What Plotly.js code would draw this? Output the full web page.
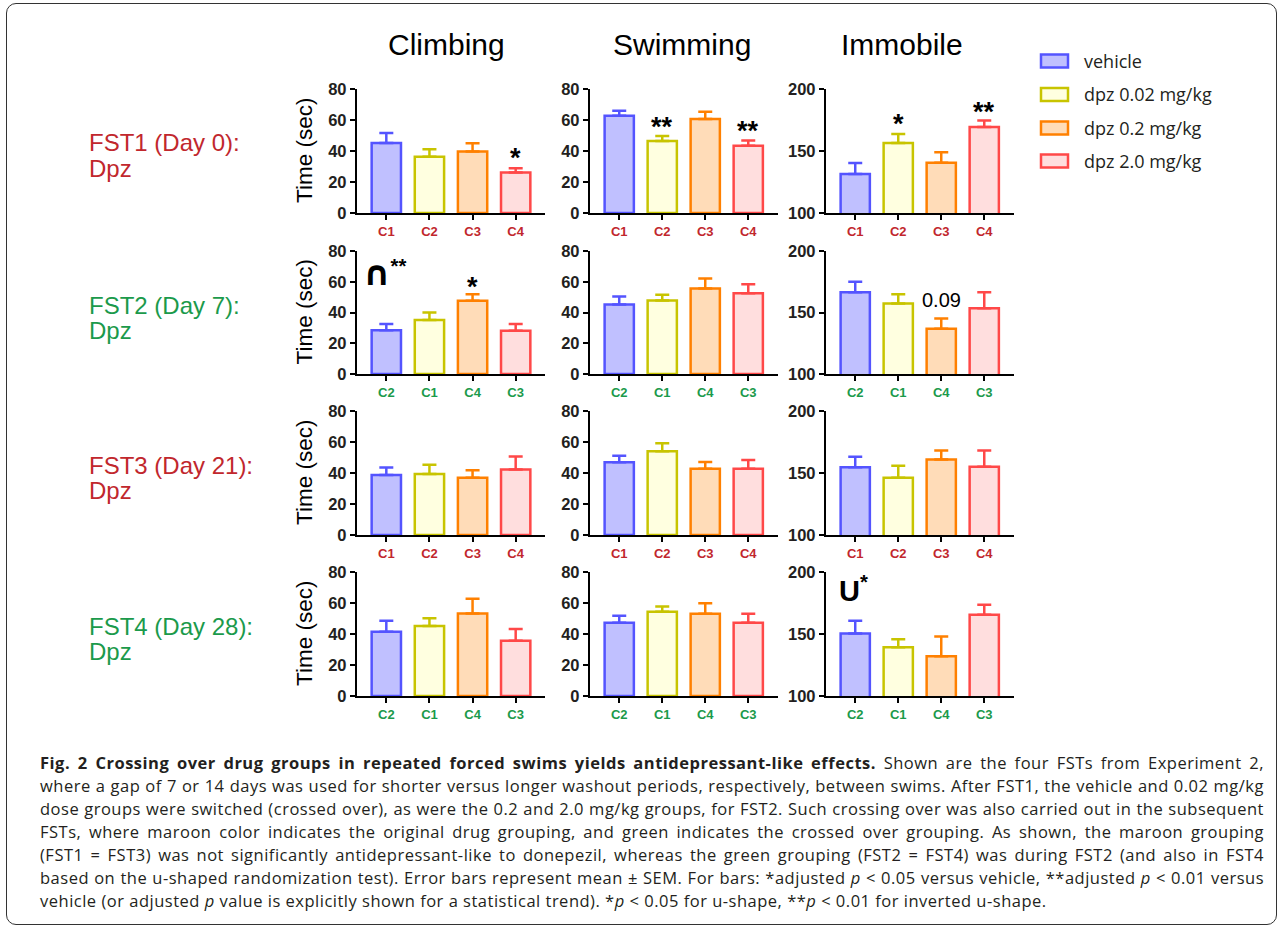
<!DOCTYPE html>
<html>
<head>
<meta charset="utf-8">
<script src="https://cdn.plot.ly/plotly-3.0.1.min.js"></script>
<style>
  html, body { margin:0; padding:0; background:#fff; }
  #wrap { position:relative; width:1282px; height:931px; overflow:hidden; }
  #chart { position:absolute; left:0; top:0; width:1282px; height:931px; }
  #frame { position:absolute; left:6px; top:3px; width:1269px; height:920px; border:1.5px solid #333; border-radius:10px; pointer-events:none; }
  .cap { position:absolute; left:40px; width:1224px; font-family:"Open Sans", sans-serif; font-size:16.5px; color:#231f20; white-space:nowrap; text-align:justify; text-align-last:justify; line-height:23px; }
  .cap.last { text-align:left; text-align-last:left; }
  .cap span.m { display:inline-block; }
</style>
</head>
<body>
<div id="wrap">
  <div id="chart"></div>
  <div id="captions"></div>
  <div id="frame"></div>
</div>
<script>
// ---------------- data ----------------
const groups = ['vehicle', 'dpz 0.02 mg/kg', 'dpz 0.2 mg/kg', 'dpz 2.0 mg/kg'];
const measures = ['Climbing', 'Swimming', 'Immobile'];
const rowLabels = ['FST1 (Day 0):', 'FST2 (Day 7):', 'FST3 (Day 21):', 'FST4 (Day 28):'];
const rowSub = ['Dpz', 'Dpz', 'Dpz', 'Dpz'];
const rowTicks = [['C1','C2','C3','C4'], ['C2','C1','C4','C3'], ['C1','C2','C3','C4'], ['C2','C1','C4','C3']];

const climbMean = [[45.2, 36.3, 39.6, 26.2], [28.5, 35.2, 47.6, 28.1], [38.7, 39.4, 37.0, 42.2], [41.5, 45.2, 53.3, 35.7]];
const climbSem  = [[6.4, 4.8, 5.4, 2.6], [4.1, 4.8, 4.3, 4.5], [4.8, 6.0, 4.7, 8.4], [7.1, 4.9, 9.5, 7.5]];
const swimMean  = [[62.8, 46.5, 60.6, 43.4], [45.2, 47.8, 55.6, 52.5], [46.9, 54.1, 42.8, 42.8], [47.3, 54.4, 53.1, 47.3]];
const swimSem   = [[3.2, 3.2, 4.8, 3.3], [5.2, 3.7, 6.5, 5.9], [4.3, 5.1, 4.3, 5.6], [4.5, 3.4, 6.7, 5.8]];
const immMean   = [[131.5, 156.5, 140.6, 169.4], [166.5, 157.3, 136.8, 153.5], [154.6, 146.2, 160.8, 155.1], [150.4, 139.4, 132.1, 165.5]];
const immSem    = [[8.8, 7.2, 8.3, 5.1], [8.6, 7.6, 8.3, 13.0], [8.6, 9.7, 7.3, 13.0], [10.2, 6.4, 15.9, 8.1]];

const yRanges = [[0, 80], [0, 80], [100, 200]];
const yTicks = [[0, 20, 40, 60, 80], [0, 20, 40, 60, 80], [100, 150, 200]];

// significance marks: text, row, column, bar index, value of glyph centre
const sigText = ['*', '**', '**', '*', '**', '*', '0.09'];
const sigRow  = [0, 0, 0, 0, 0, 1, 1];
const sigCol  = [0, 1, 1, 2, 2, 0, 2];
const sigBar  = [3, 1, 3, 1, 3, 2, 2];
const sigVal  = [40, 60.2, 57.6, 177.4, 187.4, 61, 160.2];
// shape tests (inverted-u, u)
const shapeText = ['∩', 'U'];
const shapeStar = ['**', '*'];
const shapeRow = [1, 3];
const shapeCol = [0, 2];
const shapeBar = [-0.02, -0.05];
const shapeVal = [65.4, 186];

// ---------------- style ----------------
const fillColors = ['#c0c0ff', '#ffffe0', '#ffdcb8', '#ffdede'];
const lineColors = ['#5454ff', '#c8c400', '#ff8000', '#ff4848'];
const maroon = '#c1272d', green = '#1b9a4b';
const rowColors = [maroon, green, maroon, green];
const W = 1282, H = 931;
const colX = [[357, 545], [590, 777.5], [826, 1013.5]];
const rowY = [[89, 213], [251, 374], [411, 535], [572, 696]];
const px = x => x / W, py = y => 1 - y / H;

const means = [climbMean, swimMean, immMean];
const sems = [climbSem, swimSem, immSem];

const traces = [];
const layout = {
  width: W, height: H, margin: {l: 0, r: 0, t: 0, b: 0},
  paper_bgcolor: 'rgba(0,0,0,0)', plot_bgcolor: 'rgba(0,0,0,0)',
  showlegend: false, barmode: 'overlay',
  font: {family: 'Arial, "Liberation Sans", sans-serif', color: '#231f20'},
  annotations: [], shapes: []
};

function axId(r, c) { const k = r * 3 + c + 1; return k === 1 ? '' : String(k); }
const bold = s => '<b>' + s + '</b>';

for (let r = 0; r < 4; r++) {
  for (let c = 0; c < 3; c++) {
    const id = axId(r, c);
    const xa = 'x' + id, ya = 'y' + id;
    for (let g = 0; g < 4; g++) {
      traces.push({
        type: 'bar', x: [g], y: [means[c][r][g]], width: 0.68,
        xaxis: xa, yaxis: ya, name: groups[g],
        marker: {color: fillColors[g], line: {color: lineColors[g], width: 2.5}},
        error_y: {type: 'data', symmetric: false, array: [sems[c][r][g]], arrayminus: [0],
                  color: lineColors[g], thickness: 2.5, width: 7},
        hoverinfo: 'y'
      });
    }
    layout['xaxis' + id] = {
      domain: [px(colX[c][0]), px(colX[c][1])], anchor: ya,
      range: [-0.68, 3.68], tickmode: 'array', tickvals: [0, 1, 2, 3], ticktext: rowTicks[r].map(bold),
      tickfont: {family: 'Arial', size: 13, color: rowColors[r]},
      showline: true, linewidth: 2.2, linecolor: '#000', ticks: 'outside', ticklen: 5, tickwidth: 2, tickcolor: '#000',
      showgrid: false, zeroline: false, fixedrange: true
    };
    layout['yaxis' + id] = {
      domain: [py(rowY[r][1]), py(rowY[r][0])], anchor: xa,
      range: yRanges[c], tickmode: 'array', tickvals: yTicks[c], ticktext: yTicks[c].map(bold),
      tickfont: {family: 'Arial', size: 16.5, color: '#231f20'},
      showline: true, linewidth: 2.2, linecolor: '#000', ticks: 'outside', ticklen: 5, tickwidth: 2, tickcolor: '#000',
      showgrid: false, zeroline: false, fixedrange: true
    };
  }
  const dy = rowY[r][0] - rowY[0][0];
  // row labels
  layout.annotations.push({xref: 'paper', yref: 'paper', x: px(87), y: py(143 + dy), xanchor: 'left', yanchor: 'middle',
    text: rowLabels[r], showarrow: false, font: {family: 'Arial', size: 24, color: rowColors[r]}});
  layout.annotations.push({xref: 'paper', yref: 'paper', x: px(87), y: py(168 + dy), xanchor: 'left', yanchor: 'middle',
    text: rowSub[r], showarrow: false, font: {family: 'Arial', size: 24, color: rowColors[r]}});
  // y title
  layout.annotations.push({xref: 'paper', yref: 'paper', x: px(304), y: py((rowY[r][0] + rowY[r][1]) / 2),
    xanchor: 'center', yanchor: 'middle', textangle: -90, text: 'Time (sec)', showarrow: false,
    font: {family: 'Arial', size: 22.5, color: '#000'}});
}

// column titles
const titleX = [447, 682, 902];
for (let c = 0; c < 3; c++) {
  layout.annotations.push({xref: 'paper', yref: 'paper', x: px(titleX[c]), y: py(44), xanchor: 'center', yanchor: 'middle',
    text: measures[c], showarrow: false, font: {family: 'Arial', size: 30, color: '#000'}});
}

// significance marks
for (let i = 0; i < sigText.length; i++) {
  const id = axId(sigRow[i], sigCol[i]);
  const isNum = sigText[i] === '0.09';
  layout.annotations.push({xref: 'x' + id, yref: 'y' + id, x: sigBar[i], y: sigVal[i], xanchor: 'center', yanchor: 'middle',
    text: isNum ? sigText[i] : bold(sigText[i]), showarrow: false, yshift: isNum ? 0 : -7,
    font: {family: 'Arial', size: isNum ? 20 : 27, color: '#000'}});
}
for (let i = 0; i < shapeText.length; i++) {
  const id = axId(shapeRow[i], shapeCol[i]);
  const glyph = i === 0
    ? '<span style="font-family:\'DejaVu Sans\';font-weight:bold;font-size:34px">' + shapeText[i] + '</span>'
    : '<b>' + shapeText[i] + '</b>';
  layout.annotations.push({xref: 'x' + id, yref: 'y' + id, x: shapeBar[i], y: shapeVal[i], xanchor: 'center', yanchor: 'middle',
    text: glyph + '<sup><b>' + shapeStar[i] + '</b></sup>', showarrow: false,
    font: {family: 'Arial', size: 29, color: '#000'}});
}

// legend
const legY = [61, 94.5, 128, 161];
for (let g = 0; g < 4; g++) {
  layout.shapes.push({type: 'rect', xref: 'paper', yref: 'paper', x0: px(1041), x1: px(1068), y0: py(legY[g] + 6.5), y1: py(legY[g] - 6.5),
    line: {color: lineColors[g], width: 2.5}, fillcolor: fillColors[g]});
  layout.annotations.push({xref: 'paper', yref: 'paper', x: px(1082), y: py(legY[g]), xanchor: 'left', yanchor: 'middle',
    text: groups[g], showarrow: false, font: {family: '"Open Sans"', size: 18, color: '#231f20'}});
}

Plotly.newPlot('chart', traces, layout, {staticPlot: true});

// caption
const captionLines = [
  '<b>Fig. 2 Crossing over drug groups in repeated forced swims yields antidepressant-like effects.</b> Shown are the four FSTs from Experiment 2,',
  'where a gap of 7 or 14 days was used for shorter versus longer washout periods, respectively, between swims. After FST1, the vehicle and 0.02 mg/kg',
  'dose groups were switched (crossed over), as were the 0.2 and 2.0 mg/kg groups, for FST2. Such crossing over was also carried out in the subsequent',
  'FSTs, where maroon color indicates the original drug grouping, and green indicates the crossed over grouping. As shown, the maroon grouping',
  '(FST1 = FST3) was not significantly antidepressant-like to donepezil, whereas the green grouping (FST2 = FST4) was during FST2 (and also in FST4',
  'based on the u-shaped randomization test). Error bars represent mean ± SEM. For bars: *adjusted <i>p</i> &lt; 0.05 versus vehicle, **adjusted <i>p</i> &lt; 0.01 versus',
  'vehicle (or adjusted <i>p</i> value is explicitly shown for a statistical trend). *<i>p</i> &lt; 0.05 for u-shape, **<i>p</i> &lt; 0.01 for inverted u-shape.'
];
const capTop = 751, capStep = 23, capWidth = 1224;
const capBox = document.getElementById('captions');
const capDivs = captionLines.map((t, i) => {
  const d = document.createElement('div');
  d.className = 'cap' + (i === captionLines.length - 1 ? ' last' : '');
  d.style.top = (capTop + i * capStep) + 'px';
  d.innerHTML = '<span class="m">' + t + '</span>';
  capBox.appendChild(d);
  return d;
});
// choose the largest common letter spacing that keeps every line within the caption width
let ls = 0.7;
function widest() { return Math.max(...capDivs.map(d => d.firstChild.getBoundingClientRect().width)); }
capDivs.forEach(d => d.style.letterSpacing = ls + 'px');
while (ls > -0.5 && widest() > capWidth - 4) {
  ls -= 0.05;
  capDivs.forEach(d => d.style.letterSpacing = ls + 'px');
}
// unwrap measuring spans so the text justifies across the full width
capDivs.forEach((d, i) => { d.innerHTML = captionLines[i]; });
</script>
</body>
</html>
